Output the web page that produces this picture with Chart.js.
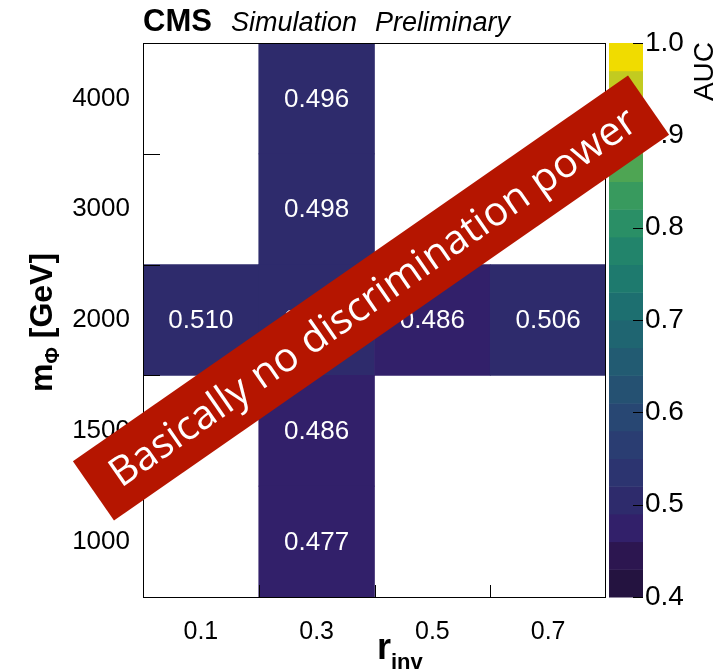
<!DOCTYPE html>
<html>
<head>
<meta charset="utf-8">
<script src="https://cdn.jsdelivr.net/npm/chart.js@4.4.0/dist/chart.umd.min.js"></script>
<style>
  html, body { margin: 0; padding: 0; background: #fff; }
  canvas { display: block; }
</style>
</head>
<body>
<canvas id="aucChart" width="718" height="672"></canvas>
<script>
// r_inv bins (x) and mediator mass bins (y)
var rinv = ['0.1', '0.3', '0.5', '0.7'];
var mass = ['1000', '1500', '2000', '3000', '4000'];

// AUC per mass row, one entry per r_inv bin (null = empty cell)
var auc1000 = [null, 0.477, null, null];
var auc1500 = [null, 0.486, null, null];
var auc2000 = [0.510, 0.497, 0.486, 0.506];
var auc3000 = [null, 0.498, null, null];
var auc4000 = [null, 0.496, null, null];
var aucRows = [auc1000, auc1500, auc2000, auc3000, auc4000];

// colour axis
var zMin = 0.4, zMax = 1.0;
var zTicks = [0.4, 0.5, 0.6, 0.7, 0.8, 0.9, 1.0];

// viridis-ish palette, 20 contour levels
var palette = ['#241340', '#2c1650', '#32206a', '#2e2b6c', '#2c3470', '#2a3d72', '#284773', '#255172',
    '#225b72', '#1f6571', '#1d6f70', '#1e7a6e', '#22846b', '#2a8f66', '#389a5e', '#4ea553',
    '#6bb046', '#92bc36', '#c2cb20', '#f0dc00'];

function colourFor(v) {
    var i = Math.floor((v - zMin) / (zMax - zMin) * palette.length);
    return palette[Math.max(0, Math.min(palette.length - 1, i))];
}

var datasets = aucRows.map(function (row, r) {
    return {
        label: mass[r],
        data: row.map(function (v) { return v == null ? null : [r, r + 1]; }),
        auc: row,
        backgroundColor: row.map(function (v) { return v == null ? 'rgba(0,0,0,0)' : colourFor(v); }),
        borderWidth: 0,
        grouped: false,
        barPercentage: 1,
        categoryPercentage: 1
    };
});

// cell labels, frame, ticks, colour bar, titles, banner
var decorations = {
    id: 'decorations',
    afterDatasetsDraw: function (chart) {
        var ctx = chart.ctx;
        var area = chart.chartArea;
        var xs = chart.scales.x, ys = chart.scales.y, zs = chart.scales.z;
        ctx.save();

        // cell values
        ctx.fillStyle = '#fff';
        ctx.font = '26px "Liberation Sans", Arial, sans-serif';
        ctx.textAlign = 'center';
        ctx.textBaseline = 'middle';
        chart.data.datasets.forEach(function (ds, d) {
            chart.getDatasetMeta(d).data.forEach(function (el, i) {
                var v = ds.auc[i];
                if (v == null) return;
                var c = el.getCenterPoint();
                ctx.fillText(v.toFixed(3), c.x, c.y + 1);
            });
        });

        // frame
        ctx.strokeStyle = '#000';
        ctx.lineWidth = 1;
        ctx.strokeRect(area.left + 0.5, area.top + 0.5, area.right - area.left - 1, area.bottom - area.top);

        // inner ticks at bin edges
        ctx.beginPath();
        for (var r = 1; r < mass.length; r++) {
            var py = Math.round(ys.getPixelForValue(r)) + 0.5;
            ctx.moveTo(area.left, py);
            ctx.lineTo(area.left + 17, py);
        }
        var bw = (area.right - area.left) / rinv.length;
        for (var c = 1; c < rinv.length; c++) {
            var px = Math.round(area.left + c * bw) + 0.5;
            ctx.moveTo(px, area.bottom);
            ctx.lineTo(px, area.bottom - 12);
        }
        ctx.stroke();

        // colour bar
        var cbL = zs.left + 3, cbW = 34;
        var step = (zMax - zMin) / palette.length;
        palette.forEach(function (col, i) {
            var y0 = zs.getPixelForValue(zMin + i * step);
            var y1 = zs.getPixelForValue(zMin + (i + 1) * step);
            ctx.fillStyle = col;
            ctx.fillRect(cbL, y1, cbW, y0 - y1 + 0.5);
        });
        ctx.strokeStyle = '#000';
        ctx.beginPath();
        zTicks.forEach(function (t) {
            var py = Math.round(zs.getPixelForValue(t)) + 0.5;
            ctx.moveTo(cbL + cbW - 10, py);
            ctx.lineTo(cbL + cbW, py);
        });
        ctx.stroke();

        // header
        ctx.fillStyle = '#000';
        ctx.textAlign = 'left';
        ctx.textBaseline = 'alphabetic';
        ctx.font = 'bold 31px "Liberation Sans", Arial, sans-serif';
        ctx.fillText('CMS', area.left, 31);
        ctx.font = 'italic 27px "Liberation Sans", Arial, sans-serif';
        ctx.fillText('Simulation', 231, 31);
        ctx.fillText('Preliminary', 375, 31);

        // x title r_inv
        ctx.font = 'bold 36px "Liberation Sans", Arial, sans-serif';
        ctx.fillText('r', 377, 659);
        var rw = ctx.measureText('r').width;
        ctx.font = 'bold 22px "Liberation Sans", Arial, sans-serif';
        ctx.fillText('inv', 377 + rw, 669);

        // y title m_Phi [GeV]
        ctx.save();
        ctx.translate(52, 392);
        ctx.rotate(-Math.PI / 2);
        ctx.font = 'bold 32px "Liberation Sans", Arial, sans-serif';
        ctx.fillText('m', 0, 0);
        var mw = ctx.measureText('m').width;
        ctx.font = 'bold 20px "Liberation Sans", Arial, sans-serif';
        ctx.fillText('\u03A6', mw, 7);
        var pw = ctx.measureText('\u03A6').width;
        ctx.font = 'bold 32px "Liberation Sans", Arial, sans-serif';
        ctx.fillText(' [GeV]', mw + pw, 0);
        ctx.restore();

        // colour axis title
        ctx.save();
        ctx.translate(713, 42);
        ctx.rotate(-Math.PI / 2);
        ctx.textAlign = 'right';
        ctx.font = '28px "Liberation Sans", Arial, sans-serif';
        ctx.fillText('AUC', 0, 0);
        ctx.restore();

        // banner
        ctx.save();
        ctx.translate(371, 298);
        ctx.rotate(-34.8 * Math.PI / 180);
        ctx.fillStyle = '#b51500';
        ctx.fillRect(-338, -36, 676, 72);
        var msg = 'Basically no discrimination power';
        ctx.font = '36px "Open Sans", sans-serif';
        var fs = 36 * 632 / ctx.measureText(msg).width;
        ctx.font = fs.toFixed(1) + 'px "Open Sans", sans-serif';
        ctx.fillStyle = '#fff';
        ctx.textAlign = 'center';
        ctx.textBaseline = 'middle';
        ctx.fillText(msg, 2, 2);
        ctx.restore();

        ctx.restore();
    }
};

var tickFont = { family: '"Liberation Sans", Arial, sans-serif', size: 26 };

new Chart(document.getElementById('aucChart').getContext('2d'), {
    type: 'bar',
    data: { labels: rinv, datasets: datasets },
    options: {
        responsive: false,
        animation: false,
        layout: { padding: { top: 43, left: 0, right: 0, bottom: 0 } },
        plugins: { legend: { display: false }, tooltip: { enabled: false } },
        scales: {
            x: {
                type: 'category',
                offset: true,
                grid: { display: false },
                border: { display: false },
                ticks: { color: '#000', font: { family: tickFont.family, size: 25 }, padding: 12, maxRotation: 0 },
                afterFit: function (s) { s.height = 75; s.paddingLeft = 0; s.paddingRight = 0; }
            },
            y: {
                type: 'linear',
                min: 0,
                max: mass.length,
                grid: { display: false },
                border: { display: false },
                afterBuildTicks: function (s) {
                    s.ticks = mass.map(function (m, i) { return { value: i + 0.5 }; });
                },
                ticks: {
                    color: '#000',
                    font: tickFont,
                    padding: 5,
                    callback: function (v) { return mass[Math.floor(v)]; }
                },
                afterFit: function (s) { s.width = 143; s.paddingTop = 0; s.paddingBottom = 0; }
            },
            z: {
                type: 'linear',
                position: 'right',
                min: zMin,
                max: zMax,
                grid: { display: false, drawTicks: false },
                border: { display: false },
                afterBuildTicks: function (s) {
                    s.ticks = zTicks.map(function (t) { return { value: t }; });
                },
                ticks: {
                    color: '#000',
                    font: { family: tickFont.family, size: 28 },
                    padding: 39,
                    callback: function (v) { return v.toFixed(1); }
                },
                afterFit: function (s) { s.width = 112; s.paddingTop = 0; s.paddingBottom = 0; }
            }
        }
    },
    plugins: [decorations]
});
</script>
</body>
</html>
